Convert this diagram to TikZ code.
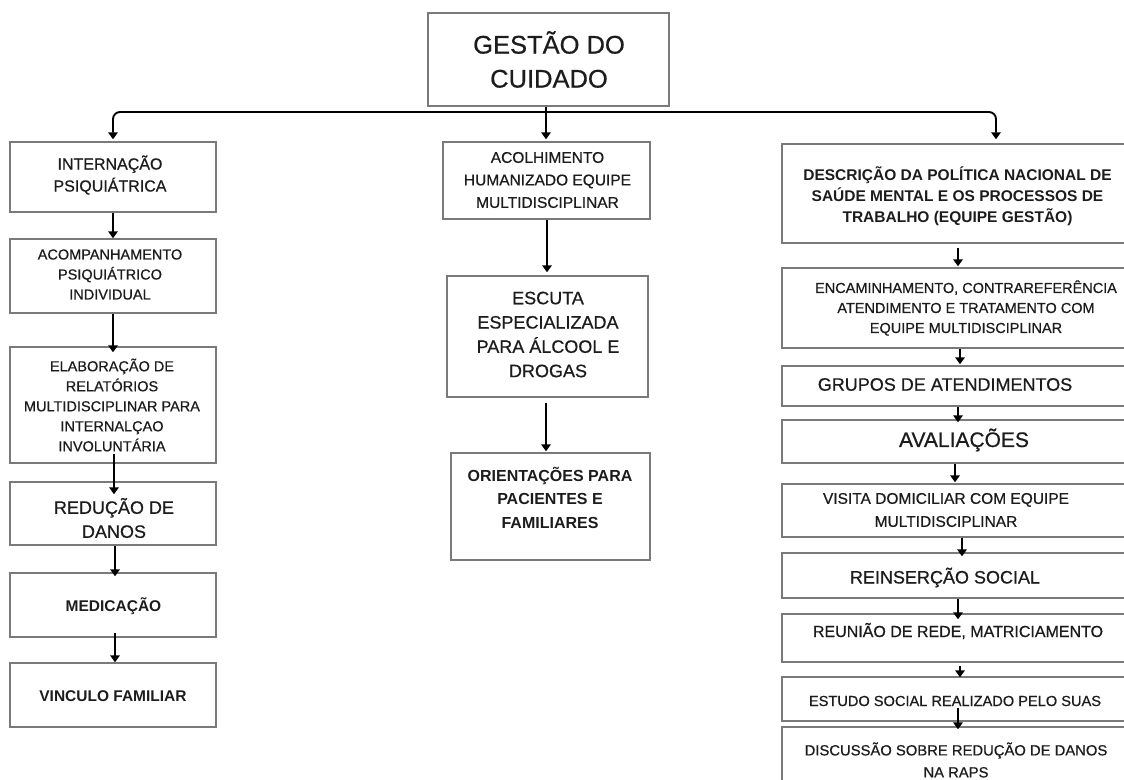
\documentclass[tikz,border=0pt]{standalone}
\usepackage{fontspec}
\setmainfont{Liberation Sans}
\newfontfamily\medf{Liberation Sans}[FakeBold=0.6]
\usetikzlibrary{arrows.meta,calc}
\definecolor{bx}{HTML}{7A7A7A}
\definecolor{tx}{HTML}{1C1C1C}
\tikzset{
  box/.style={draw=bx, line width=1.4pt, rectangle, inner sep=0pt, fill=white},
  tt/.style={text=tx, align=center, inner sep=0pt},
  arr/.style={draw=black, line width=1.9pt, -{Triangle[width=9.5pt,length=7pt]}},
}
\newcommand{\mybox}[5]{\node[box, minimum width={#4pt-#2pt}, minimum height={#5pt-#3pt}] (#1) at ({(#2+#4)/2},{(#3+#5)/2}) {};}
\newcommand{\fs}[2]{\medf\fontsize{#1}{#2}\selectfont}
\newcommand{\fb}[2]{\bfseries\fontsize{#1}{#2}\selectfont}
\begin{document}
\begin{tikzpicture}[x=1pt,y=-1pt]
\clip (0,0) rectangle (1124,779);
\fill[white] (0,0) rectangle (1124,779);

% boxes
\mybox{T}{428}{13}{669}{106}
\mybox{L1}{10}{142}{216}{212}
\mybox{L2}{10}{239}{216}{313}
\mybox{L3}{10}{347}{216}{463}
\mybox{L4}{10}{482}{216}{545}
\mybox{L5}{10}{573}{216}{637}
\mybox{L6}{10}{663}{216}{727}
\mybox{M1}{443}{142}{650}{219}
\mybox{M2}{447}{276}{648}{397}
\mybox{M3}{451}{453}{650}{560}
\mybox{R1}{782}{144}{1134}{243}
\mybox{R2}{782}{268}{1134}{348}
\mybox{R3}{782}{366}{1134}{406}
\mybox{R4}{782}{420}{1134}{463}
\mybox{R5}{782}{484}{1134}{537}
\mybox{R6}{782}{553}{1134}{598}
\mybox{R7}{782}{614}{1134}{662}
\mybox{R8}{782}{677}{1134}{721}
\mybox{R9}{782}{727}{1134}{810}

% texts
\node[tt, font=\fs{25.5}{34}] (Tt) at (549,59.5) {GESTÃO DO\\CUIDADO};
\node[tt, font=\fs{16}{22}] (L1t) at (110,175) {INTERNAÇÃO\\PSIQUIÁTRICA};
\node[tt, font=\fs{14.5}{20}] (L2t) at (110,274.5) {ACOMPANHAMENTO\\PSIQUIÁTRICO\\INDIVIDUAL};
\node[tt, font=\fs{14.5}{20}] (L3t) at (112,405) {ELABORAÇÃO DE\\RELATÓRIOS\\MULTIDISCIPLINAR PARA\\INTERNALÇAO\\INVOLUNTÁRIA};
\node[tt, font=\fs{18}{24}] (L4t) at (114,518) {REDUÇÃO DE\\DANOS};
\node[tt, font=\fb{15.5}{20}] (L5t) at (113.5,606.5) {MEDICAÇÃO};
\node[tt, font=\fb{15.5}{20}] (L6t) at (113,696.5) {VINCULO FAMILIAR};
\node[tt, font=\fs{15.5}{22.5}] (M1t) at (547.5,180) {ACOLHIMENTO\\HUMANIZADO EQUIPE\\MULTIDISCIPLINAR};
\node[tt, font=\fs{18}{24.3}] (M2t) at (548,334.5) {ESCUTA\\ESPECIALIZADA\\PARA ÁLCOOL E\\DROGAS};
\node[tt, font=\fb{16}{23.5}] (M3t) at (550,497.5) {ORIENTAÇÕES PARA\\PACIENTES E\\FAMILIARES};
\node[tt, font=\fb{15.5}{21}] (R1t) at (957.5,196.5) {DESCRIÇÃO DA POLÍTICA NACIONAL DE\\SAÚDE MENTAL E OS PROCESSOS DE\\TRABALHO (EQUIPE GESTÃO)};
\node[tt, font=\fs{14.5}{20}] (R2t) at (966,308) {ENCAMINHAMENTO, CONTRAREFERÊNCIA\\ATENDIMENTO E TRATAMENTO COM\\EQUIPE MULTIDISCIPLINAR};
\node[tt, font=\fs{18}{24}] (R3t) at (945,384.5) {GRUPOS DE ATENDIMENTOS};
\node[tt, font=\fs{21}{24}] (R4t) at (964,440) {AVALIAÇÕES};
\node[tt, font=\fs{15.5}{23}] (R5t) at (946,510) {VISITA DOMICILIAR COM EQUIPE\\MULTIDISCIPLINAR};
\node[tt, font=\fs{18}{24}] (R6t) at (945,577.5) {REINSERÇÃO SOCIAL};
\node[tt, font=\fs{16}{20}] (R7t) at (958,631) {REUNIÃO DE REDE, MATRICIAMENTO};
\node[tt, font=\fs{14.6}{20}] (R8t) at (955,701) {ESTUDO SOCIAL REALIZADO PELO SUAS};
\node[tt, font=\fs{14.8}{22}] (R9t) at (956,760) {DISCUSSÃO SOBRE REDUÇÃO DE DANOS\\NA RAPS};

% top connectors
\coordinate (hub) at (546,112);
\draw[arr] (T.south -| hub) -- ($(M1.north -| hub)+(0,-2)$);
\draw[arr, rounded corners=7pt] (hub) -| ($(L1.north)+(0,-2)$);
\draw[arr, rounded corners=7pt] (hub) -| ($(R1.north)+(38,-4)$);

% left column
\draw[arr] (L1.south) -- (L2.north);
\draw[arr] (L2.south) -- ($(L3.north)+(0,6)$);
\draw[arr] ($(L3.south)+(1,-10)$) -- ($(L4.north)+(1,13)$);
\draw[arr] ($(L4.south)+(2,0)$) -- ($(L5.north)+(2,4)$);
\draw[arr] ($(L5.south)+(2,-5)$) -- ($(L6.north)+(2,0)$);

% middle column
\draw[arr] ($(M1.south)+(0.5,0)$) -- ($(M2.north)+(-0.5,-3)$);
\draw[arr] ($(M2.south)+(-1.5,5)$) -- ($(M3.north)+(-4.5,-1)$);

% right column
\draw[arr] ($(R1.south)+(0,4)$) -- ($(R2.north)+(0,-1)$);
\draw[arr] ($(R2.south)+(2,0)$) -- ($(R3.north)+(2,-1)$);
\draw[arr] (R3.south) -- ($(R4.north)+(0,3)$);
\draw[arr] ($(R4.south)+(-3,0)$) -- ($(R5.north)+(-3,-1)$);
\draw[arr] ($(R5.south)+(4,0)$) -- ($(R6.north)+(4,4)$);
\draw[arr] (R6.south) -- ($(R7.north)+(0,6)$);
\draw[arr] ($(R7.south)+(2,3)$) -- ($(R8.north)+(2,1)$);
\draw[arr] ($(R8.south)+(0,-14)$) -- ($(R9.north)+(0,3)$);
\end{tikzpicture}
\end{document}
